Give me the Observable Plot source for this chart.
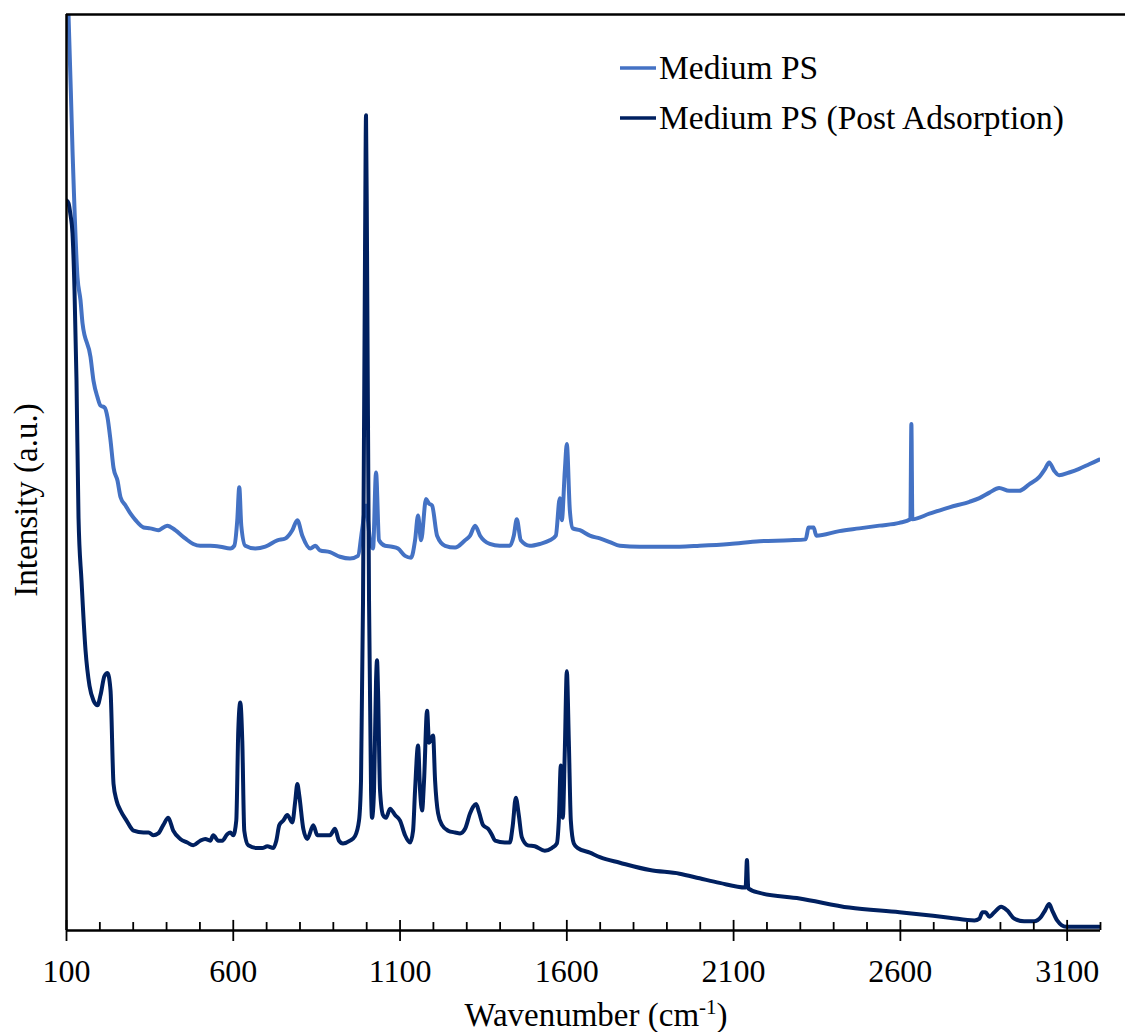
<!DOCTYPE html>
<html><head><meta charset="utf-8">
<script src="https://cdn.jsdelivr.net/npm/d3@7"></script>
<script src="https://cdn.jsdelivr.net/npm/@observablehq/plot@0.6"></script>
<style>body{margin:0;background:#fff}#chart{width:1125px;height:1032px}
svg text{font-family:"Liberation Serif",Tinos,"Times New Roman","DejaVu Serif","Noto Serif",serif !important}</style>
</head><body><div id="chart"></div>
<script>
// ---- data (intensity in arbitrary units) ----
const seriesNames = ["Medium PS", "Medium PS (Post Adsorption)"];
const seriesColors = ["#4472C4", "#002060"];

const lightWn = [100,106,118,133,142,148,172,181,193,202,214,223,232,241,253,262,277,292,307,331,351,375,402,426,456,480,501,531,561,591,603,612,618,624,636,666,696,732,756,777,792,807,831,846,860,890,920,950,974,986,998,1010,1019,1028,1037,1055,1076,1094,1115,1133,1145,1154,1163,1178,1187,1196,1211,1235,1265,1295,1310,1325,1340,1369,1399,1429,1441,1450,1462,1489,1519,1549,1567,1579,1585,1594,1600,1609,1618,1639,1669,1699,1729,1759,1819,1878,1938,1998,2088,2178,2268,2316,2325,2340,2348,2417,2477,2537,2597,2630,2633,2636,2687,2747,2807,2837,2867,2896,2926,2956,2986,3016,3034,3046,3061,3076,3106,3136,3166,3196];
const lightVal = [104,100,85.2,71.3,68.8,66.3,62.6,60.0,58.2,57.3,57.1,56.0,53.5,50.5,49.1,47.3,46.4,45.5,44.8,44.0,43.9,43.7,44.2,43.7,42.8,42.2,42.0,42.0,41.9,41.7,42.0,44.8,48.4,44.2,42.0,41.7,41.9,42.6,42.8,43.7,44.8,43.1,41.7,42.0,41.5,41.3,40.8,40.6,40.9,43.7,46.4,42.6,41.7,50.0,42.6,42.0,41.9,41.7,40.9,40.7,42.6,45.3,42.6,47.1,46.6,46.4,43.1,42.0,41.8,42.6,43.1,44.2,43.1,42.2,42.0,42.0,43.1,44.9,42.6,42.0,42.2,42.6,43.1,47.2,44.8,50.2,53.1,45.9,43.9,43.7,43.1,42.8,42.4,42.0,41.9,41.9,41.9,42.0,42.2,42.5,42.6,42.7,44.0,44.0,43.1,43.6,43.9,44.2,44.5,44.9,55.3,44.9,45.5,46.2,46.8,47.2,47.8,48.3,48.0,48.0,48.7,49.5,50.4,51.1,50.2,49.7,50.0,50.4,50.9,51.4];

const darkWn = [100,106,112,118,124,130,136,145,157,169,181,193,202,214,223,232,241,250,262,280,301,331,346,360,375,390,405,420,441,462,480,501,516,531,540,555,567,582,591,600,609,615,621,627,633,645,672,687,702,720,729,738,750,762,777,786,792,798,810,822,840,852,869,890,905,917,929,950,965,977,983,989,995,998,1001,1007,1013,1016,1022,1028,1031,1034,1040,1049,1058,1070,1085,1100,1115,1130,1139,1145,1154,1160,1166,1172,1181,1187,1193,1199,1205,1214,1226,1244,1265,1280,1295,1310,1319,1328,1337,1349,1364,1376,1385,1414,1429,1438,1447,1456,1465,1483,1504,1534,1555,1570,1576,1582,1588,1594,1600,1606,1612,1621,1633,1669,1699,1759,1849,1938,1998,2058,2136,2140,2144,2178,2298,2447,2597,2747,2822,2837,2846,2855,2867,2882,2902,2920,2941,2971,3001,3022,3034,3046,3055,3070,3097,3196];
const darkVal = [79.7,79.4,78.1,76.1,69.9,60.0,45.1,38.2,30.6,26.7,25.1,24.6,25.7,27.8,28.1,26.2,16.0,14.2,13.1,12.0,10.9,10.7,10.7,10.4,10.6,11.5,12.3,10.9,10.0,9.6,9.3,9.8,10.0,9.8,10.4,9.8,9.8,10.5,10.7,10.4,12.0,21.8,24.9,20.7,10.9,9.3,9.0,9.0,9.2,9.0,9.8,11.5,12.0,12.6,11.8,14.2,16.0,14.7,11.1,10.0,11.5,10.4,10.4,10.4,11.1,9.8,9.5,9.8,10.3,12.0,16.4,36.0,74.2,89.0,74.2,36.0,15.3,12.3,15.3,27.3,29.5,26.2,15.3,12.6,12.3,13.3,12.6,12.0,10.4,9.6,10.9,15.3,20.2,15.3,13.1,16.4,24.0,20.5,20.9,21.3,16.4,12.8,11.5,10.9,10.7,10.6,11.1,12.8,13.5,13.8,12.9,11.5,11.1,10.4,9.8,9.6,9.6,11.5,14.5,12.6,10.2,9.3,9.2,8.7,9.0,9.5,12.0,18.0,12.3,19.7,28.3,20.7,12.0,9.5,9.0,8.5,8.0,7.4,6.6,6.2,5.7,5.2,4.7,7.7,4.6,4.1,3.5,2.5,2.0,1.4,1.1,1.3,2.0,2.0,1.5,2.0,2.6,2.2,1.3,1.0,1.0,1.5,2.2,2.9,2.2,1.1,0.4,0.4];

const majorTicks = [100,600,1100,1600,2100,2600,3100];
const minorTicks = d3.range(200, 3201, 100).filter(d => !majorTicks.includes(d));

const lightData = lightWn.map((wn, i) => ({wn, v: lightVal[i]}));
const darkData = darkWn.map((wn, i) => ({wn, v: darkVal[i]}));

const FONT = "'Liberation Serif',Tinos,'Times New Roman','DejaVu Serif','Noto Serif',serif";

const plot = Plot.plot({
  width: 1125, height: 1032,
  marginLeft: 66, marginRight: 25, marginTop: 14, marginBottom: 102,
  style: {fontFamily: FONT, fontSize: "32px", color: "#000", background: "#fff", overflow: "visible"},
  x: {domain: [100, 3200]},
  y: {domain: [0, 100], axis: null},
  marks: [
    Plot.line(lightData, {x: "wn", y: "v", stroke: seriesColors[0], strokeWidth: 4, curve: "monotone-x", clip: true}),
    Plot.line(darkData, {x: "wn", y: "v", stroke: seriesColors[1], strokeWidth: 4, curve: "monotone-x", clip: true}),
    Plot.ruleY([0], {stroke: "#000", strokeWidth: 2.5}),
    Plot.ruleX([100], {stroke: "#000", strokeWidth: 2.5}),
    Plot.ruleY([100], {x1: 100, x2: 3275, stroke: "#000", strokeWidth: 2.5}),
    Plot.ruleX(minorTicks, {y1: 0, y2: 0.87, stroke: "#000", strokeWidth: 1.8}),
    Plot.ruleX(majorTicks, {y1: -1.2, y2: 1.1, stroke: "#000", strokeWidth: 1.8}),
    Plot.axisX({ticks: majorTicks, tickSize: 0, tickPadding: 29, tickFormat: d => String(d), label: null, fontSize: 32})
  ]
});

document.getElementById("chart").appendChild(plot);

// titles and legend
const svg = d3.select(plot);
const xt = svg.append("text")
  .attr("x", 596).attr("y", 1026)
  .attr("text-anchor", "middle")
  .style("font-size", "33px").attr("fill", "#000");
xt.append("tspan").text("Wavenumber (cm");
xt.append("tspan").attr("dy", -12).style("font-size", "21px").text("-1");
xt.append("tspan").attr("dy", 12).text(")");

svg.append("text")
  .attr("transform", "translate(37,500) rotate(-90)")
  .attr("text-anchor", "middle")
  .style("font-size", "33px").attr("fill", "#000")
  .text("Intensity (a.u.)");

const lg = svg.append("g");
seriesNames.forEach((name, i) => {
  const y = 68 + i * 50;
  lg.append("line").attr("x1", 620).attr("x2", 656).attr("y1", y).attr("y2", y)
    .attr("stroke", seriesColors[i]).attr("stroke-width", 3.5);
  lg.append("text").attr("x", 659).attr("y", y + 11)
    .attr("text-anchor", "start")
    .style("font-size", "33.5px").attr("fill", "#000")
    .text(name);
});
</script>
</body></html>
